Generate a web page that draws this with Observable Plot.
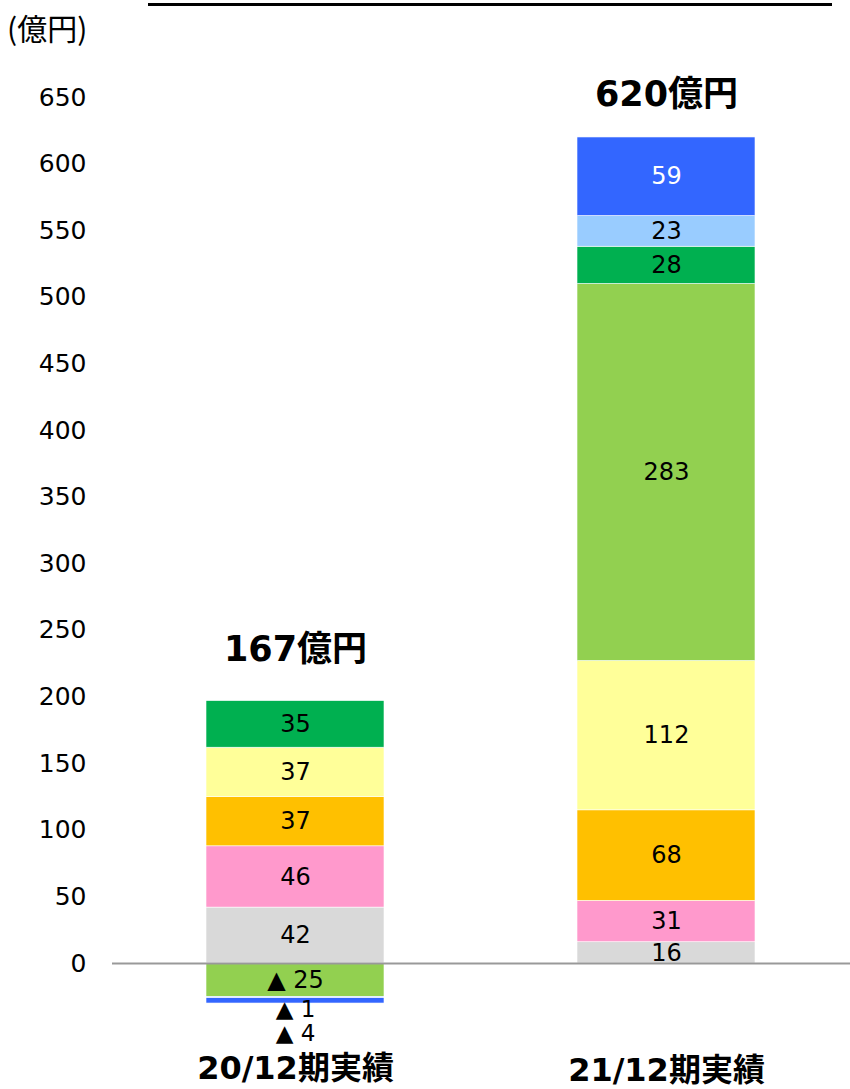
<!DOCTYPE html>
<html>
<head>
<meta charset="utf-8">
<script src="https://cdn.jsdelivr.net/npm/d3@7"></script>
<script src="https://cdn.jsdelivr.net/npm/@observablehq/plot@0.6"></script>
<style>
  html, body { margin: 0; padding: 0; background: #fff; }
  #wrap { position: relative; width: 850px; height: 1089px; overflow: hidden;
          font-family: "DejaVu Sans", "Noto Sans CJK JP", sans-serif; background: #fff; }
  #chart { position: absolute; left: 0; top: 0; z-index: 1; }
  #rule { position: absolute; left: 148px; top: 3px; width: 684px; height: 3px; background: #000; z-index: 2; }
  #unit { position: absolute; left: 7px; top: 9px; font-size: 30px; color: #000; z-index: 2;
          font-family: "Noto Sans CJK JP", "DejaVu Sans", sans-serif; line-height: 36px; }
</style>
</head>
<body>
<div id="wrap">
  <div id="chart"></div>
  <div id="rule"></div>
  <div id="unit">(億円)</div>
</div>
<script>
// ---- data ----
const categories = ["20/12期実績", "21/12期実績"];
const series = ["seg1", "seg2", "seg3", "seg4", "seg5", "seg6", "seg7", "seg8"];
const colors = ["#D9D9D9", "#FF99CC", "#FFC000", "#FFFF99", "#92D050", "#00B050", "#99CCFF", "#3366FF"];
const values2012 = [42, 46, 37, 37, -25, 35, -1, -4];
const values2112 = [16, 31, 68, 112, 283, 28, 23, 59];
const totalLabels = ["167億円", "620億円"];
const yTicks = [0, 50, 100, 150, 200, 250, 300, 350, 400, 450, 500, 550, 600, 650];

// ---- build table ----
const rows = [];
[values2012, values2112].forEach((vals, ci) => {
  vals.forEach((v, si) => rows.push({cat: categories[ci], series: series[si], value: v}));
});
const fmt = v => v < 0 ? `▲ ${Math.abs(v)}` : `${v}`;
const tops = categories.map((c, i) => ({
  cat: c,
  top: d3.sum(rows.filter(r => r.cat === c && r.value > 0), r => r.value),
  label: totalLabels[i]
}));
const small = r => r.value < 0 && Math.abs(r.value) < 5;
const textColor = r => r.series === "seg8" ? "white" : "black";
const fontFam = '"DejaVu Sans", "Noto Sans CJK JP", sans-serif';

const plot = Plot.plot({
  width: 850,
  height: 1089,
  marginTop: 97,
  marginBottom: 46,
  marginLeft: 112,
  marginRight: 0,
  style: {fontFamily: fontFam, background: "transparent"},
  x: {domain: categories, paddingInner: 0.52, paddingOuter: 0.252, label: null, axis: null},
  y: {domain: [-60, 650], label: null, axis: null},
  color: {domain: series, range: colors},
  marks: [
    Plot.barY(rows, Plot.stackY({x: "cat", y: "value", fill: "series", stroke: "white", strokeWidth: 0.6})),
    Plot.ruleY([0], {stroke: "#999", strokeWidth: 2}),
    Plot.text(rows, Plot.stackY({
      x: "cat", y: "value", z: "series", text: d => small(d) ? "" : fmt(d.value),
      fill: textColor, fontSize: 24
    })),
    Plot.text(rows, Plot.stackY({
      x: "cat", y: "value", z: "series", text: d => small(d) && d.series === "seg7" ? fmt(d.value) : "",
      fill: "black", fontSize: 23, dy: 12
    })),
    Plot.text(rows, Plot.stackY({
      x: "cat", y: "value", z: "series", text: d => small(d) && d.series === "seg8" ? fmt(d.value) : "",
      fill: "black", fontSize: 23, dy: 33
    })),
    Plot.text(tops.filter((d, i) => i === 0), {x: "cat", y: "top", text: "label", fontSize: 35, fontWeight: "bold",
      lineAnchor: "bottom", dy: -40, fill: "black"}),
    Plot.text(tops.filter((d, i) => i === 1), {x: "cat", y: "top", text: "label", fontSize: 35, fontWeight: "bold",
      lineAnchor: "bottom", dy: -31, fill: "black"}),
    Plot.axisY({ticks: yTicks, tickSize: 0, tickPadding: 26, fontSize: 25, label: null, tickFormat: d => d}),
    Plot.text(categories.slice(0, 1), {x: d => d, frameAnchor: "bottom", dy: 35, text: d => d,
      fontSize: 32, fontWeight: "bold", fill: "black"}),
    Plot.text(categories.slice(1), {x: d => d, frameAnchor: "bottom", dy: 37, text: d => d,
      fontSize: 32, fontWeight: "bold", fill: "black"})
  ]
});
document.getElementById("chart").appendChild(plot);
</script>
</body>
</html>
